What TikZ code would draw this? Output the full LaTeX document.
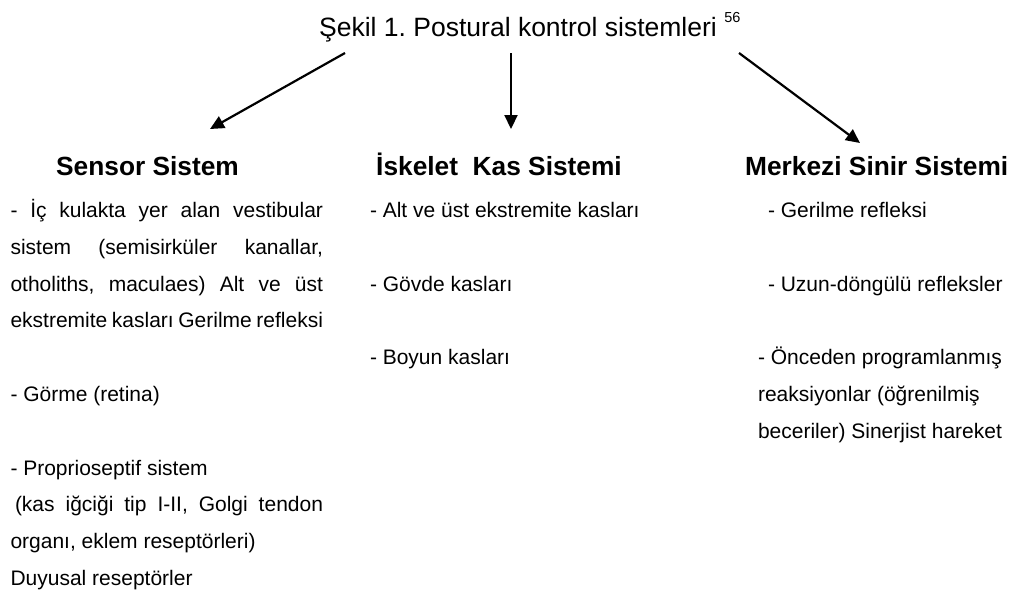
\documentclass[tikz,border=0pt]{standalone}
\usepackage{fontspec}
\setmainfont{Liberation Sans}
\usetikzlibrary{arrows.meta}
\frenchspacing
\tikzset{
  body/.style={font=\fontsize{21}{21}\selectfont, anchor=base west, inner sep=0pt, outer sep=0pt},
  head/.style={font=\fontsize{26.3}{26.3}\selectfont\bfseries, anchor=base west, inner sep=0pt},
  ttl/.style={font=\fontsize{26.5}{26.5}\selectfont, anchor=base west, inner sep=0pt},
  arr/.style={line width=2.2pt, -{Triangle[length=14pt,width=13pt]}}
}
\newcommand{\jl}[2]{\makebox[#1][s]{#2}}
\begin{document}
\begin{tikzpicture}[x=1pt,y=-1pt]
\useasboundingbox (0,0) rectangle (1017,592);
% title
\node[ttl] (title) at (319,36) {Şekil 1. Postural kontrol sistemleri\hspace{7.5pt}\raisebox{13.5pt}{\fontsize{14.5}{14.5}\selectfont 56}};
% headers
\node[head] (h1) at (56,175) {Sensor Sistem};
\node[head] (h2) at (376,175) {İskelet\ \ Kas Sistemi};
\node[head] (h3) at (745,175) {Merkezi Sinir Sistemi};
% arrows
\coordinate (a1s) at (345,53); \coordinate (a1e) at (210,129);
\coordinate (a2s) at (511,53); \coordinate (a2e) at (511,129);
\coordinate (a3s) at (739,53); \coordinate (a3e) at (860,143);
\draw[arr] (a1s) -- (a1e);
\draw[arr] (a2s) -- (a2e);
\draw[arr] (a3s) -- (a3e);
% left column
\node[body] (l0) at (10.5,217.5) {\jl{312.5pt}{- İç kulakta yer alan vestibular}};
\node[body] (l1) at (10.5,254.3) {\jl{312.5pt}{sistem (semisirküler kanallar,}};
\node[body] (l2) at (10.5,291.1) {\jl{312.5pt}{otholiths, maculaes) Alt ve üst}};
\node[body] (l3) at (10.5,327.9) {\jl{312.5pt}{ekstremite kasları Gerilme refleksi}};
\node[body] (l5) at (10.5,401.5) {- Görme (retina)};
\node[body] (l7) at (10.5,475.1) {- Proprioseptif sistem};
\node[body] (l8) at (15,511.9) {\jl{308pt}{(kas iğciği tip I-II, Golgi tendon}};
\node[body] (l9) at (10.5,548.7) {organı, eklem reseptörleri)};
\node[body] (l10) at (10.5,585.5) {Duyusal reseptörler};
% middle column
\node[body] (m0) at (370,217.5) {- Alt ve üst ekstremite kasları};
\node[body] (m2) at (370,291.1) {- Gövde kasları};
\node[body] (m4) at (370,364.7) {- Boyun kasları};
% right column
\node[body] (r0) at (768,217.5) {- Gerilme refleksi};
\node[body] (r2) at (768,291.1) {- Uzun-döngülü refleksler};
\node[body] (r4) at (758,364.7) {- Önceden programlanmış};
\node[body] (r5) at (758,401.5) {reaksiyonlar (öğrenilmiş};
\node[body] (r6) at (758,438.3) {beceriler) Sinerjist hareket};
\end{tikzpicture}
\end{document}
